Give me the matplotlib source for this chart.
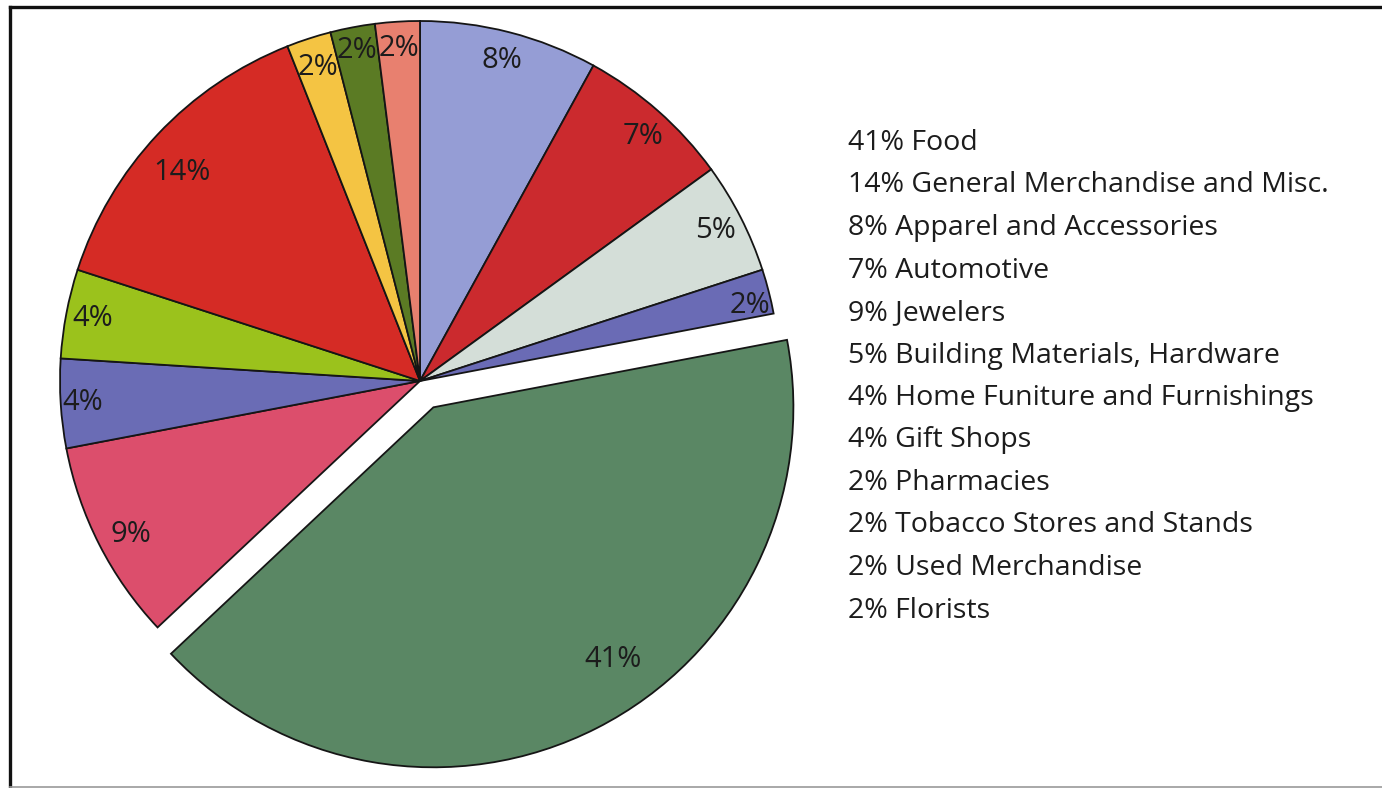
import matplotlib
matplotlib.use("Agg")
import matplotlib.pyplot as plt
from matplotlib.lines import Line2D
import numpy as np

# Retail sales share by store type, listed clockwise from the top of the pie
categories = [
    "Apparel and Accessories",
    "Automotive",
    "Building Materials, Hardware",
    "Pharmacies",
    "Food",
    "Jewelers",
    "Gift Shops",
    "Home Funiture and Furnishings",
    "General Merchandise and Misc.",
    "Tobacco Stores and Stands",
    "Used Merchandise",
    "Florists",
]
shares = [8, 7, 5, 2, 41, 9, 4, 4, 14, 2, 2, 2]

# Order of the text key on the right
legend_order = [
    "Food",
    "General Merchandise and Misc.",
    "Apparel and Accessories",
    "Automotive",
    "Jewelers",
    "Building Materials, Hardware",
    "Home Funiture and Furnishings",
    "Gift Shops",
    "Pharmacies",
    "Tobacco Stores and Stands",
    "Used Merchandise",
    "Florists",
]

colors = [
    "#959dd5", "#cb2a2e", "#d4ded8", "#6a6bb5", "#5a8764", "#dc4e6c",
    "#6a6cb5", "#9bc21c", "#d52b25", "#f4c443", "#5b7b24", "#e8806f",
]

# Radial placement of the percentage labels (fraction of radius) and small angular nudges
label_r = [0.92, 0.92, 0.92, 0.94, 0.86, 0.91, 0.94, 0.925, 0.88, 0.915, 0.935, 0.925]
label_dtheta = [0, -1, 0, -1.5, 8.5, 1, 0, 0, 2, 0, 0, 0]

FONT = "Open Sans"
TXT = "#1c1c1c"

W, H = 1382, 788
fig = plt.figure(figsize=(W / 100, H / 100), dpi=100)
fig.patch.set_facecolor("white")
ax = fig.add_axes([0, 0, 1, 1])

cx, cy, R = 420, 407, 360
# pie offsets exploded wedges in data units, so scale by the radius
explode = [0.082 * R if c == "Food" else 0 for c in categories]
wedges, _ = ax.pie(
    shares,
    colors=colors,
    startangle=90,
    counterclock=False,
    radius=R,
    center=(cx, cy),
    explode=explode,
    wedgeprops=dict(edgecolor="#151515", linewidth=1.3),
)
ax.set_xlim(0, W)
ax.set_ylim(0, H)
ax.set_aspect("equal")
ax.axis("off")

for w, s, rf, dt in zip(wedges, shares, label_r, label_dtheta):
    th = np.deg2rad((w.theta1 + w.theta2) / 2 + dt)
    x0, y0 = w.center
    ax.text(x0 + rf * R * np.cos(th), y0 + rf * R * np.sin(th), f"{s}%",
            ha="center", va="center", fontsize=21, family=FONT, color=TXT)

# Text key
share_of = dict(zip(categories, shares))
x_key, y_top, step = 848, 143, 42.5
for i, name in enumerate(legend_order):
    fig.text(x_key / W, 1 - (y_top + i * step) / H, f"{share_of[name]}% {name}",
             ha="left", va="center", fontsize=20.5, family=FONT, color=TXT)

# Border frame
fig.add_artist(Line2D([10 / W, 1.0], [1 - 7 / H, 1 - 7 / H], transform=fig.transFigure,
                      color="#111111", lw=2.4))
fig.add_artist(Line2D([10 / W, 10 / W], [1 - 7 / H, 1 - 787 / H], transform=fig.transFigure,
                      color="#111111", lw=2.4))
fig.add_artist(Line2D([10 / W, 1.0], [1 - 787 / H, 1 - 787 / H], transform=fig.transFigure,
                      color="#9a9a9a", lw=1.2))

fig.savefig("out.png", dpi=100, facecolor="white")
